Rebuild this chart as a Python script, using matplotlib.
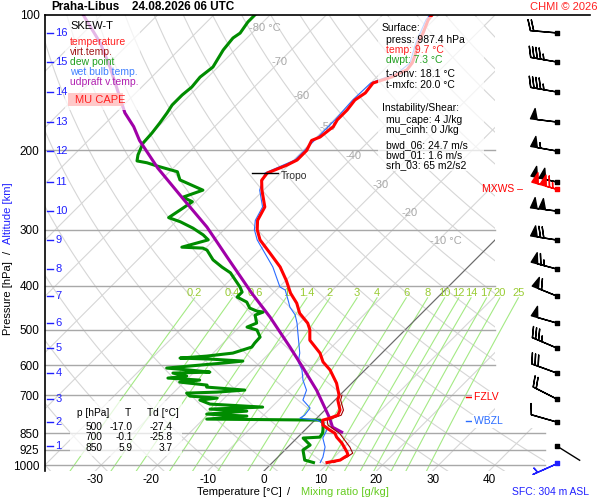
import numpy as np
import matplotlib
matplotlib.use("Agg")
import matplotlib.pyplot as plt
from matplotlib.patches import Rectangle, Polygon
from matplotlib.lines import Line2D
from matplotlib.ticker import NullLocator, NullFormatter
from matplotlib.transforms import offset_copy, IdentityTransform

plt.rcParams['font.family'] = ['Liberation Sans', 'DejaVu Sans']
plt.rcParams['axes.unicode_minus'] = False

STATION = "Praha-Libus"
RUN = "24.08.2026 06 UTC"

# environment temperature [hPa], [degC]
temp_p = [987.4, 975, 950, 936, 894, 867, 850, 836, 815, 795, 787, 775, 755, 717, 700,
          682, 658, 615, 590, 564, 528, 500, 484, 460, 437, 415, 389, 363, 338, 316,
          300, 286, 267, 245, 233, 224.5, 215.5, 210, 200, 190, 186.7, 177, 171, 162.6,
          154.5, 149, 141.6, 137.3, 134.5, 132.5, 127.8, 122.7, 115.4, 109.6, 102.6, 100]
temp_t = [9.7, 11.6, 12.1, 11.4, 8.9, 6.9, 5.9, 4.4, 2.3, 1.4, 2.3, 3.2, 2.7, 0.5, -0.1,
          -1.2, -2.7, -6.2, -8.9, -11.0, -15.1, -17.0, -18.5, -21.7, -24.0, -26.9, -29.9,
          -33.4, -37.7, -41.8, -44.1, -45.7, -46.8, -50.3, -52.1, -52.4, -50.3, -49.4,
          -49.4, -50.3, -49.4, -48.9, -49.4, -49.4, -49.8, -49.2, -49.6, -47.3, -46.6,
          -45.9, -46.2, -47.1, -48.7, -49.6, -51.0, -51.2]

# virtual temperature, lowest part (above it hides under the temperature)
virt_p = [987.4, 960, 941, 912, 881, 851, 836, 815, 795, 775, 755, 717, 700]
virt_t = [10.9, 12.3, 12.6, 11.0, 8.9, 6.8, 5.3, 3.2, 2.2, 3.8, 3.3, 1.0, 0.4]

# dew point
dewp_p = [987.4, 975, 926, 903, 871, 867, 850, 836, 807, 794.6, 790.6, 778.5, 770.6,
          758.9, 751.2, 743.4, 732.1, 717.3, 710.0, 702.8, 692.1, 688.6, 681.5, 671.2,
          664.3, 654.2, 647.5, 640.9, 634.4, 624.7, 621.6, 615.2, 608.9, 599.7, 593.6,
          587.5, 581.5, 578.6, 572.7, 564.0, 546.9, 535.8, 519.6, 501.3, 493.7, 483.7,
          464.3, 457.2, 454.9, 448.0, 434.4, 423.4, 412.7, 402, 374, 363.3, 350, 333,
          329.6, 328, 316, 308, 297.6, 288, 282, 271, 260, 254, 245, 232.5, 223, 216.6,
          213, 211, 204.6, 192.6, 183, 173.8, 165, 158.5, 150.6, 144.6, 137.4, 130.5,
          119.6, 112.5, 109.7, 103.6, 100]
dewp_t = [7.3, 5.3, 3.2, 3.6, 1.1, 3.9, 3.7, 3.2, 2.0, 0.9, -19.4, -12.8, -20.3, -13.7,
          -20.6, -11.6, -21.5, -24.0, -21.3, -26.5, -27.6, -22.4, -17.8, -25.1, -25.4,
          -30.8, -27.6, -33.6, -30.6, -33.6, -27.2, -31.1, -35.6, -30.2, -26.5, -23.3,
          -29.5, -35.0, -30.6, -26.5, -24.2, -24.4, -24.5, -26.3, -28.6, -27.6, -29.3,
          -28.4, -29.7, -31.5, -33.1, -35.7, -35.7, -37.0, -41.2, -43.7, -46.6, -49.4,
          -50.5, -54.4, -51.0, -52.8, -55.8, -59.2, -62.0, -61.3, -60.6, -63.1, -60.8,
          -66.7, -68.6, -73.2, -75.6, -77.7, -78.6, -79.8, -80.0, -80.4, -80.9, -81.4,
          -81.4, -81.1, -81.4, -80.9, -82.1, -82.5, -82.1, -82.7, -82.7]

# wet bulb temperature
wetb_p = [987.4, 960, 912, 871, 836, 807, 795, 787, 775, 747, 717, 682, 648, 615, 590,
          564, 509, 484, 464, 446, 430, 408.5, 402, 363, 316, 300, 286, 267, 245, 224.5,
          210, 200, 186.7, 171, 154.5, 141.6, 134.5, 127.8, 115.4, 102.6, 100]
wetb_t = [8.5, 8.0, 6.6, 4.6, 3.9, 2.0, 0.4, -3.0, -2.7, -3.0, -5.7, -6.8, -9.2, -11.2,
          -13.3, -14.6, -18.5, -20.4, -22.2, -24.5, -26.1, -28.4, -29.9, -34.7, -42.3,
          -44.6, -46.1, -47.2, -50.7, -52.8, -49.8, -49.8, -49.8, -49.8, -50.2, -50.0,
          -47.0, -46.6, -49.1, -51.4, -51.6]

# MU parcel (updraft virtual temperature)
parc_p = [845, 824, 787, 682, 606, 547, 469, 415, 345, 296, 255.6, 219, 190, 177, 165,
          130.5, 115.4, 100]
parc_t = [6.9, 4.4, 2.3, -5.0, -11.6, -17.4, -26.3, -33.8, -44.6, -53.5, -62.9, -72.7,
          -80.9, -84.4, -88.4, -99.2, -105.2, -113.2]

# wind per km of altitude
alt_km = [16, 15, 14, 13, 12, 11, 10, 9, 8, 7, 6, 5, 4, 3, 2, 1]
alt_p = [109.6, 127.2, 148.3, 172.9, 200.6, 235.1, 272.7, 316.3, 366.9, 421.3, 483.7,
         549.7, 624.8, 713.7, 802.8, 907.7]
wind_dir = [275, 280, 280, 277, 280, 283, 277, 279, 285, 292, 286, 293, 290, 297, 286, 122]
wind_kt = [20, 45, 45, 50, 55, 100, 100, 70, 65, 60, 50, 35, 30, 20, 10, 3]

MXWS_P, MXWS_DIR, MXWS_KT = 243.6, 286, 115
SFC_DIR, SFC_KT = 246, 5
TROPO_P = 224.5
FZLV_P = 706
WBZL_P = 800

# surface / index values
SFC_P, SFC_T, SFC_TD = 987.4, 9.7, 7.3
SFC_H = 304
T_CONV, T_MXFC = 18.1, 20.0
MU_CAPE, MU_CINH = 4, 0
BWD_06, BWD_01, SRH_03 = 24.7, 1.6, 65

table_p = [500, 700, 850]
table_t = [-17.0, -0.1, 5.9]
table_td = [-27.4, -25.8, 3.7]

p_ticks = [100, 200, 300, 400, 500, 600, 700, 850, 925, 1000]
t_ticks = [-30, -20, -10, 0, 10, 20, 30, 40]
mix_ratios = [0.2, 0.4, 0.6, 1, 1.4, 2, 3, 4, 6, 8, 10, 12, 14, 17, 20, 25]
iso_label_t = [-80, -70, -60, -50, -40, -30, -20, -10]
iso_label_p = [107, 127, 151, 177, 206, 239, 275, 318]

# ---------------------------------------------------------------
W, H = 600, 500
P_BOT, P_TOP = 1031.0, 100.0
SKEW = 34.75

RED = '#ff0000'
GREEN = '#008c00'
BLUE = '#2a6cff'
PURPLE = '#a000a8'
DARKRED = '#a00000'
GRID = '#d6d6d6'
MIXG = '#a4ea84'


def sx(t, p):
    return np.asarray(t, float) + SKEW * np.log(P_BOT / np.asarray(p, float))


def mix_td(w, p):
    e = w * p / (622.0 + w)
    lg = np.log(e / 6.112)
    return 243.5 * lg / (17.67 - lg)


fig = plt.figure(figsize=(W / 100, H / 100), dpi=100)
ax = fig.add_axes([45 / W, 29 / H, 500 / W, 456 / H])
ax.set_yscale('log')
ax.set_ylim(P_BOT, P_TOP)
ax.set_xlim(-38.93, 49.96)
ytr = ax.get_yaxis_transform()


def fx(px):
    return px / W


def fy(py):
    return 1 - py / H


def px_box(x0, y0, x1, y1, color='white', alpha=0.72):
    ax.add_patch(Rectangle((fx(x0), fy(y1)), (x1 - x0) / W, (y1 - y0) / H,
                           transform=fig.transFigure, facecolor=color, edgecolor='none',
                           alpha=alpha, zorder=4, clip_on=False))


def px_text(x, y, s, **kw):
    kw.setdefault('va', 'center')
    kw.setdefault('fontsize', 7.5)
    fig.text(fx(x), fy(y), s, **kw)


# grid: isotherms and dry adiabats, cut back on the right above ~830 hPa
clip = Polygon([(0, 1), (0.9, 1), (0.9, 0.094), (1, 0.094), (1, 0), (0, 0)],
               closed=True, transform=ax.transAxes)
pp = np.geomspace(P_BOT, P_TOP, 200)
for t in range(-120, 60, 10):
    ln, = ax.plot(sx(np.full_like(pp, t), pp), pp, color=GRID, lw=0.8, zorder=1)
    ln.set_clip_path(clip)
for th in range(-40, 190, 10):
    tt = (th + 273.15) * (pp / 1000.0) ** 0.2857 - 273.15
    ln, = ax.plot(sx(tt, pp), pp, color=GRID, lw=0.8, zorder=1)
    ln.set_clip_path(clip)
ln, = ax.plot(sx([0, 0], [P_BOT, P_TOP]), [P_BOT, P_TOP], color='#6a6a6a', lw=0.8, zorder=1.2)
ln.set_clip_path(clip)

for t, p in zip(iso_label_t, iso_label_p):
    if t in (-80, -10):
        ax.text(sx(t, p), p, f"{t} °C", color='#a8a8a8', fontsize=8, ha='left', va='center',
                transform=offset_copy(ax.transData, fig=fig, x=-8, units='dots'), zorder=2)
    else:
        ax.text(sx(t, p), p, f"{t}", color='#a8a8a8', fontsize=8, ha='center', va='center',
                zorder=2)

# mixing ratio lines
pm = np.geomspace(P_BOT, 425, 60)
for w in mix_ratios:
    ax.plot(sx(mix_td(w, pm), pm), pm, color=MIXG, lw=0.8, zorder=1.1)
    ax.text(sx(mix_td(w, 425), 425), 425, f"{w:g}", color='#99cc33', fontsize=8,
            ha='center', va='bottom', zorder=2)

# isobars
for p in p_ticks[1:]:
    right = 1.0 if p >= 850 else 0.9
    ax.plot([0, right], [p, p], transform=ytr, color='#a8a8a8', lw=1, zorder=1.5,
            clip_on=False)
fig.add_artist(Line2D([fx(45), fx(590)], [fy(15), fy(15)], color='black', lw=1.2))

# profiles
ax.plot(sx(dewp_t, dewp_p), dewp_p, color=GREEN, lw=2.2, zorder=3)
ax.plot(sx(wetb_t, wetb_p), wetb_p, color=BLUE, lw=0.8, zorder=3.1)
ax.plot(sx(parc_t, parc_p), parc_p, color=PURPLE, lw=2.2, zorder=3.2)
ax.plot(sx(virt_t, virt_p), virt_p, color=DARKRED, lw=0.8, zorder=3.3)
ax.plot(sx(temp_t, temp_p), temp_p, color=RED, lw=2.2, zorder=3.4)

# axes decoration
for side in ('top', 'right', 'bottom'):
    ax.spines[side].set_visible(False)
ax.spines['left'].set_linewidth(1.2)
ax.set_yticks(p_ticks, labels=[str(p) for p in p_ticks])
ax.yaxis.set_minor_locator(NullLocator())
ax.yaxis.set_minor_formatter(NullFormatter())
ax.set_xticks(t_ticks)
ax.tick_params(axis='y', which='both', length=0, pad=4, labelsize=8.5)
ax.tick_params(axis='x', length=0, pad=2.5, labelsize=8.5)

for km, p in zip(alt_km, alt_p):
    ax.plot([0.004, 0.016], [p, p], transform=ytr, color='#2020ff', lw=1, clip_on=False,
            zorder=5)
    ax.text(0.021, p, str(km), transform=ytr, color='#2020ff', fontsize=8, va='center',
            zorder=5)

# level markers
ax.plot([0.414, 0.466], [TROPO_P, TROPO_P], transform=ytr, color='black', lw=1, zorder=5)
ax.text(0.472, TROPO_P, "Tropo", transform=offset_copy(ytr, fig=fig, y=-3, units='dots'),
        color='#303030', fontsize=7.5, va='center', zorder=5)
ax.plot([0.842, 0.854], [FZLV_P, FZLV_P], transform=ytr, color=RED, lw=1, zorder=5)
ax.text(0.857, FZLV_P, "FZLV  ", transform=ytr, color=RED, fontsize=7.5, va='center',
        zorder=5, bbox=dict(facecolor='white', edgecolor='none', pad=1))
ax.plot([0.842, 0.854], [WBZL_P, WBZL_P], transform=ytr, color=BLUE, lw=1, zorder=5)
ax.text(0.857, WBZL_P, "WBZL  ", transform=ytr, color=BLUE, fontsize=7.5, va='center',
        zorder=5, bbox=dict(facecolor='white', edgecolor='none', pad=1))
ax.text(0.874, MXWS_P, "MXWS –", transform=ytr, color=RED, fontsize=7.5, va='center',
        zorder=5, clip_on=False)

# wind barbs
BX = 1.024
spd = np.array(wind_kt, float)
dr = np.radians(wind_dir)
u = -spd * np.sin(dr)
v = -spd * np.cos(dr)
ap = np.array(alt_p)
ok = spd >= 5
ax.barbs(np.full(ok.sum(), BX), ap[ok], u[ok], v[ok], transform=ytr, length=6.2,
         linewidth=1, color='black', clip_on=False, zorder=6)
ax.scatter(np.full(len(ap), BX), ap, marker='s', s=6, color='black', transform=ytr,
           clip_on=False, zorder=7)
staff = 6.2 ** 2 / 2 * 100 / 72
for p, d in zip(ap[~ok], dr[~ok]):
    x0, y0 = ytr.transform((BX, p))
    fig.add_artist(Line2D([x0, x0 + staff * np.sin(d)], [y0, y0 + staff * np.cos(d)],
                          transform=IdentityTransform(), color='black', lw=1))

md = np.radians(MXWS_DIR)
ax.barbs([BX], [MXWS_P], [-MXWS_KT * np.sin(md)], [-MXWS_KT * np.cos(md)], transform=ytr,
         length=6.2, linewidth=1, color=RED, clip_on=False, zorder=6.5)
ax.scatter([BX], [MXWS_P], marker='s', s=6, color=RED, transform=ytr, clip_on=False, zorder=7)
sd = np.radians(SFC_DIR)
ax.barbs([BX], [SFC_P], [-SFC_KT * np.sin(sd)], [-SFC_KT * np.cos(sd)], transform=ytr,
         length=6.2, linewidth=1, color='#2020ff', clip_on=False, zorder=6)
ax.scatter([BX], [SFC_P], marker='s', s=6, color='#2020ff', transform=ytr, clip_on=False,
           zorder=7)

# translucent boxes
px_box(65, 16, 140, 110)
px_box(68, 93, 123, 106, color='#ffc0c0', alpha=0.85)
px_box(378, 17, 484, 171)
px_box(70, 401, 182, 456)

# legend
px_text(70, 26, "SKEW-T", color='black', fontsize=8)
for i, (s, c) in enumerate([("temperature", '#ff2020'), ("virt.temp.", '#a01818'),
                            ("dew point", '#20a020'), ("wet bulb temp.", '#4080ff'),
                            ("udpraft v.temp.", '#b020b0')]):
    px_text(70, 42 + 10 * i, s, color=c)
px_text(75, 100, "MU CAPE", color='#ff2020', fontsize=8)

# surface / instability box
info = [(382, 28, "Surface:", 'black'),
        (386, 40, f"press: {SFC_P:.1f} hPa", 'black'),
        (386, 50, f"temp: {SFC_T:.1f} °C", '#ff2020'),
        (386, 60, f"dwpt: {SFC_TD:.1f} °C", '#20a020'),
        (386, 74, f"t-conv: {T_CONV:.1f} °C", 'black'),
        (386, 85, f"t-mxfc: {T_MXFC:.1f} °C", 'black'),
        (382, 108, "Instability/Shear:", 'black'),
        (386, 120, f"mu_cape: {MU_CAPE} J/kg", 'black'),
        (386, 130, f"mu_cinh: {MU_CINH} J/kg", 'black'),
        (386, 145, f"bwd_06: {BWD_06:.1f} m/s", 'black'),
        (386, 155, f"bwd_01: {BWD_01:.1f} m/s", 'black'),
        (386, 165, f"srh_03: {SRH_03} m2/s2", 'black')]
for x, y, s, c in info:
    px_text(x, y, s, color=c, fontsize=7.5)

# small table
px_text(77, 413, "p [hPa]", fontsize=7.3)
px_text(128, 413, "T", fontsize=7.3, ha='center')
px_text(147, 413, "Td [°C]", fontsize=7.3)
for i, (p, t, td) in enumerate(zip(table_p, table_t, table_td)):
    y = 427 + 10.5 * i
    px_text(102, y, f"{p}", fontsize=7.3, ha='right')
    px_text(133, y, f"{t:.1f}", fontsize=7.3, ha='right')
    px_text(173, y, f"{td:.1f}", fontsize=7.3, ha='right')

# titles and axis labels
px_text(51, 7, STATION, fontsize=8.5, fontweight='bold')
px_text(132, 7, RUN, fontsize=8.5, fontweight='bold')
px_text(530, 7, "CHMI © 2026", color='#ff2020', fontsize=8)
px_text(197, 492, "Temperature [°C]", fontsize=8)
px_text(289, 492, "/", fontsize=8, ha='center')
px_text(301, 492, "Mixing ratio [g/kg]", color='#66cc22', fontsize=8)
px_text(512, 492, f"SFC: {SFC_H} m ASL", color='#2020ff', fontsize=7.5)
px_text(8, 298, "Pressure [hPa]", rotation=90, ha='center', fontsize=8)
px_text(8, 252, "/", rotation=90, ha='center', fontsize=8)
px_text(8, 213, "Altitude [km]", rotation=90, ha='center', color='#2020ff', fontsize=8)

fig.savefig("out.png", dpi=100)
